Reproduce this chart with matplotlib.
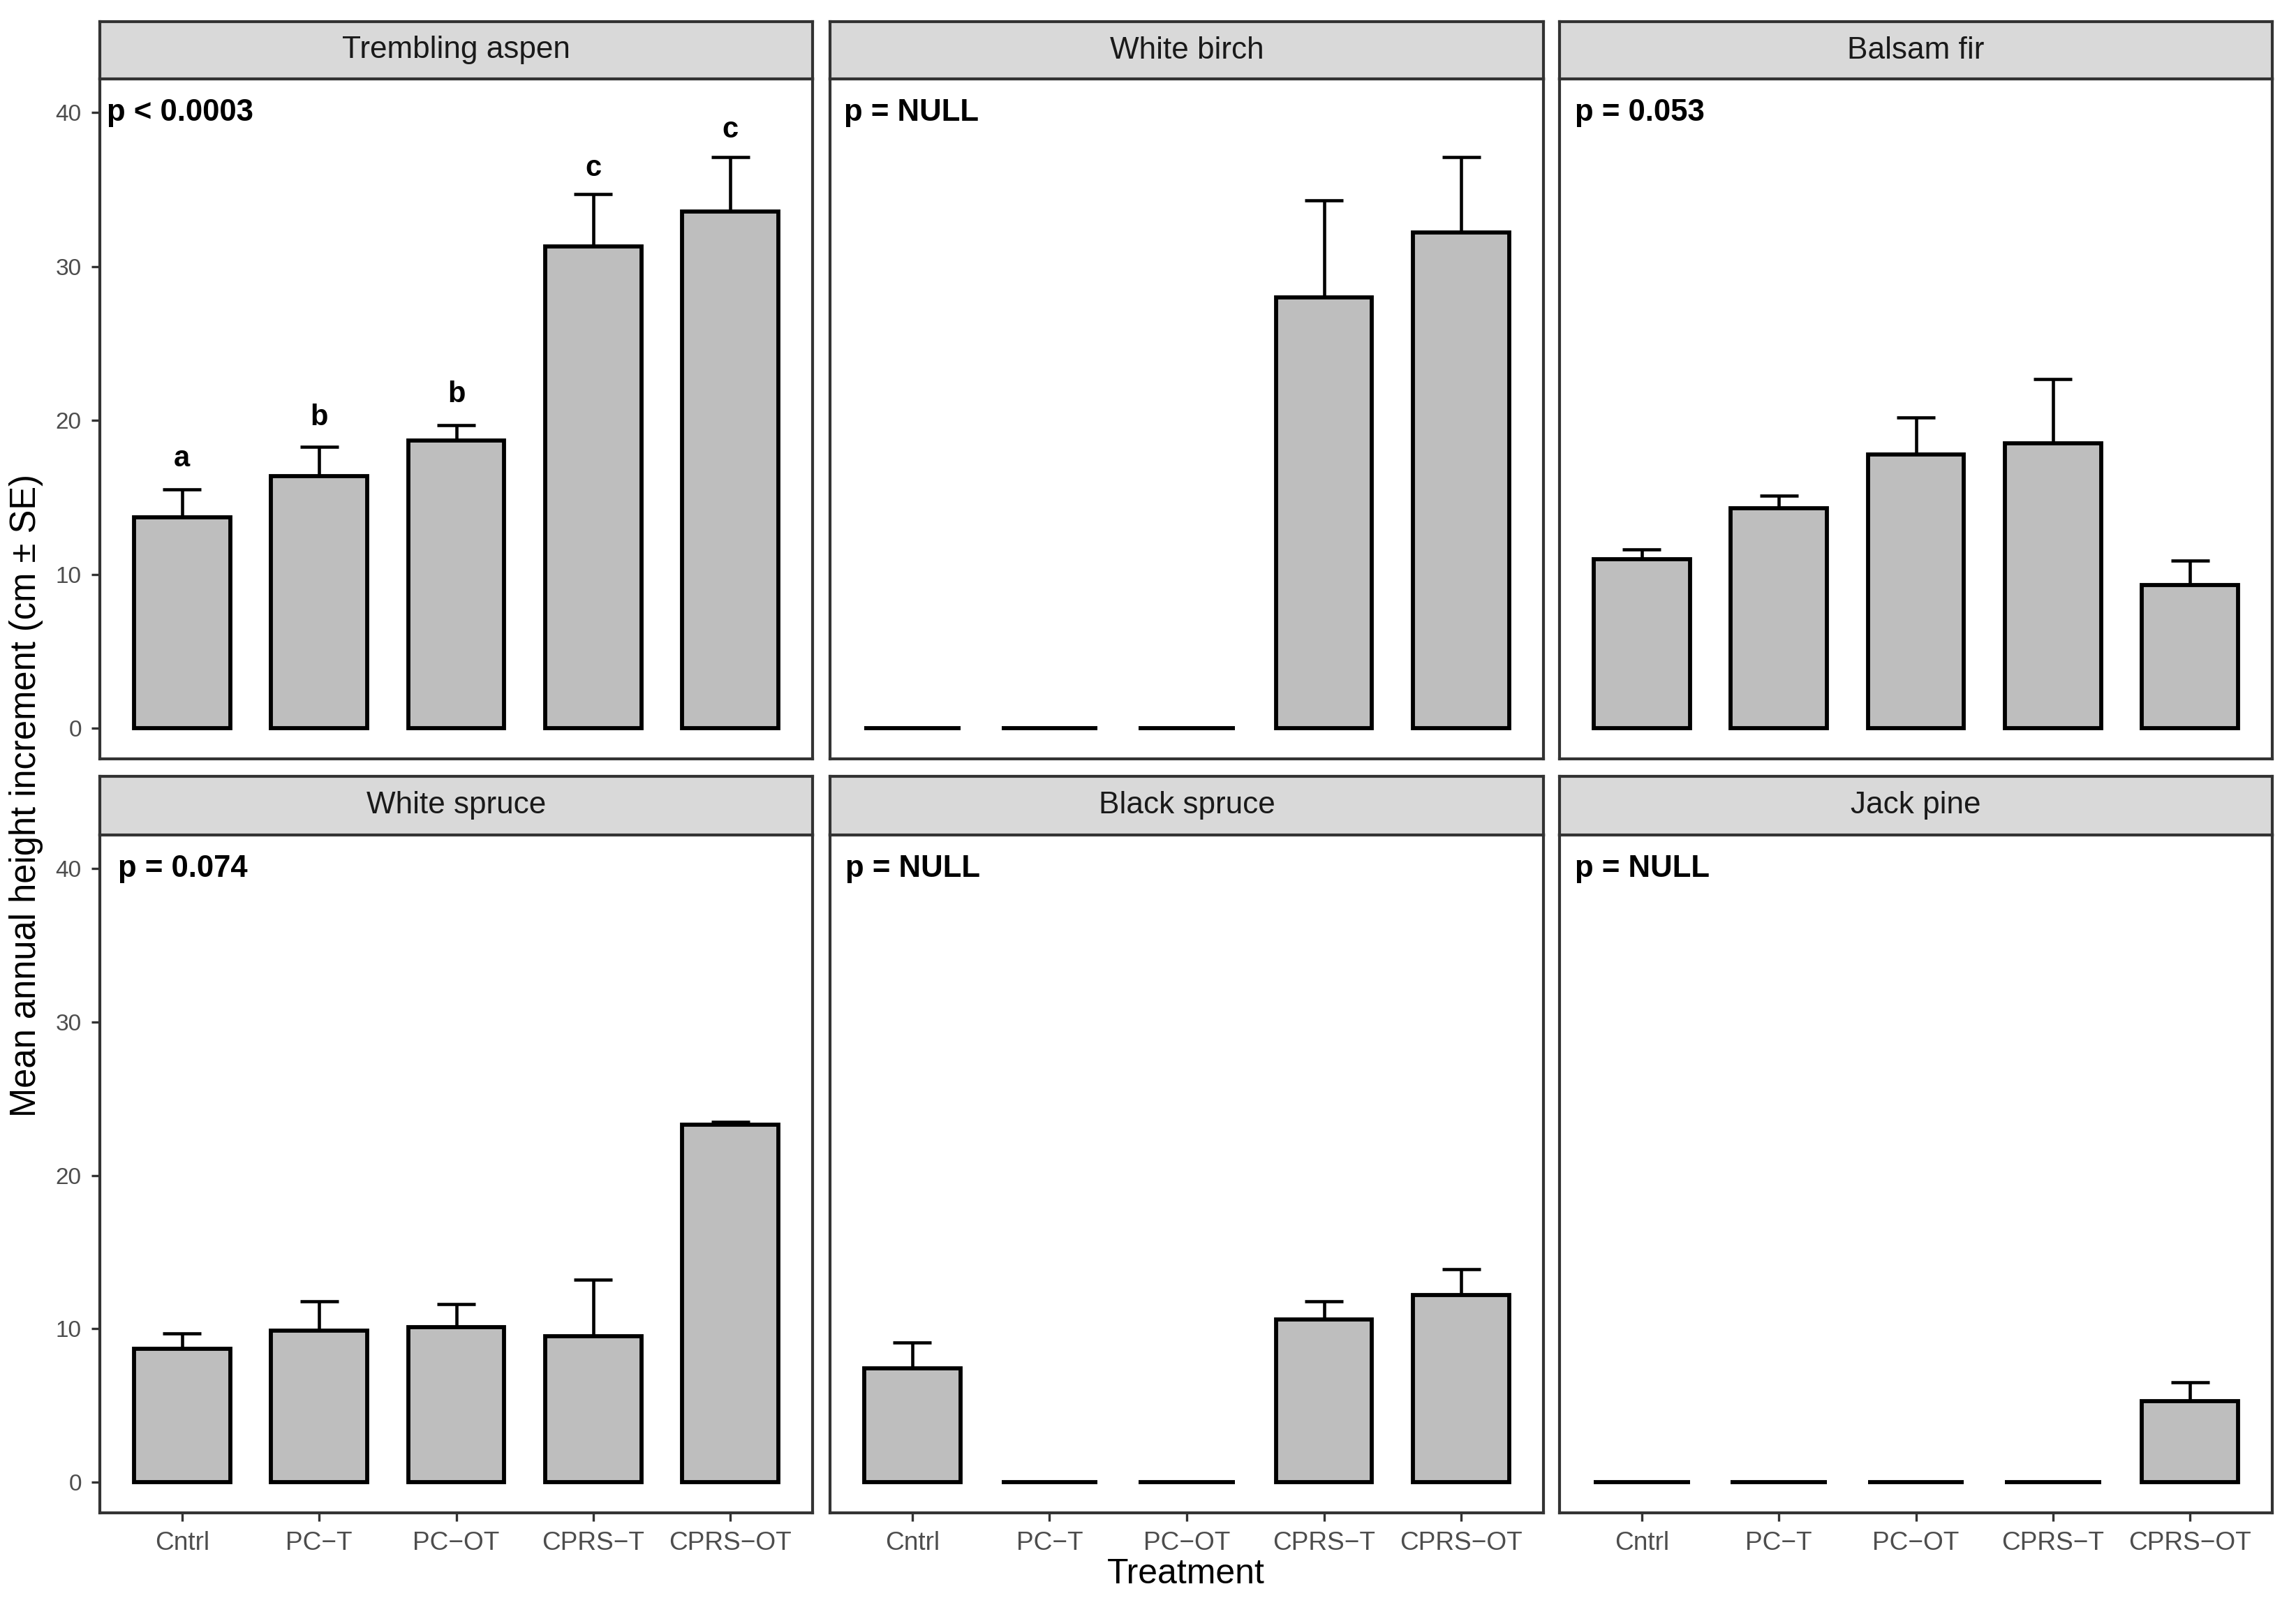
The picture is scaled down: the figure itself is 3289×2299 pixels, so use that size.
import matplotlib.pyplot as plt
from matplotlib import font_manager

W, H = 3289, 2299
DPI = 300

names = {f.name for f in font_manager.fontManager.ttflist}
narrow = 'Liberation Sans Narrow' if 'Liberation Sans Narrow' in names else 'Liberation Sans'
plt.rcParams['font.family'] = ['Liberation Sans', 'DejaVu Sans']

treatments = ['Cntrl', 'PC\u2212T', 'PC\u2212OT', 'CPRS\u2212T', 'CPRS\u2212OT']
species = ['Trembling aspen', 'White birch', 'Balsam fir',
           'White spruce', 'Black spruce', 'Jack pine']
p_labels = ['p < 0.0003', 'p = NULL', 'p = 0.053',
            'p = 0.074', 'p = NULL', 'p = NULL']

means = [
    [13.7, 16.4, 18.7, 31.3, 33.6],
    [0.0, 0.0, 0.0, 28.0, 32.2],
    [11.0, 14.3, 17.8, 18.5, 9.3],
    [8.7, 9.9, 10.1, 9.5, 23.3],
    [7.4, 0.0, 0.0, 10.6, 12.2],
    [0.0, 0.0, 0.0, 0.0, 5.3],
]
upper = [
    [15.5, 18.3, 19.7, 34.7, 37.1],
    [0.0, 0.0, 0.0, 34.3, 37.1],
    [11.6, 15.1, 20.2, 22.7, 10.9],
    [9.7, 11.8, 11.6, 13.2, 23.5],
    [9.1, 0.0, 0.0, 11.8, 13.9],
    [0.0, 0.0, 0.0, 0.0, 6.5],
]
# significance letters, only for trembling aspen
aspen_letters = ['a', 'b', 'b', 'c', 'c']
aspen_letter_y = [17.5, 20.2, 21.7, 36.4, 38.9]

fig = plt.figure(figsize=(W / DPI, H / DPI), dpi=DPI)

cols = [(143, 1164), (1189, 2211), (2234, 3255)]
rows = [(31, 113, 1087), (1112, 1196, 2167)]
p_x = [0.45, 0.5, 0.51, 0.53, 0.51, 0.51]

xs = list(range(1, len(treatments) + 1))

for i, sp in enumerate(species):
    r, c = divmod(i, 3)
    x0, x1 = cols[c]
    st, pt, pb = rows[r]
    ax = fig.add_axes([x0 / W, 1 - pb / H, (x1 - x0) / W, (pb - pt) / H])
    sax = fig.add_axes([x0 / W, 1 - pt / H, (x1 - x0) / W, (pt - st) / H])

    m = means[i]
    u = upper[i]
    # error bars (upper only)
    for x, mv, uv in zip(xs, m, u):
        if uv > mv:
            ax.plot([x, x], [mv, uv], color='black', lw=1.1, zorder=1,
                    solid_capstyle='butt')
            ax.plot([x - 0.14, x + 0.14], [uv, uv], color='black', lw=1.1,
                    zorder=1, solid_capstyle='butt')
    ax.bar(xs, m, width=0.7, color='#BEBEBE', edgecolor='black', lw=1.4,
           zorder=2)

    ax.text(p_x[i], 40, p_labels[i], ha='left', va='center', fontsize=10.5,
            fontweight='bold', color='black')
    if i == 0:
        for x, lab, ly in zip(xs, aspen_letters, aspen_letter_y):
            ax.text(x, ly, lab, ha='center', va='center', fontsize=10,
                    fontweight='bold')

    ax.set_xlim(0.4, 5.6)
    ax.set_ylim(-2, 42.2)
    ax.set_yticks([0, 10, 20, 30, 40])
    ax.set_xticks(xs)
    for s in ax.spines.values():
        s.set_color('#333333')
        s.set_linewidth(1.0)
    ax.tick_params(colors='#333333', length=2.8, width=0.8, labelcolor='#4D4D4D')
    if c == 0:
        ax.set_yticklabels(['0', '10', '20', '30', '40'], fontsize=8,
                           family=narrow)
    else:
        ax.tick_params(axis='y', left=False, labelleft=False)
    if r == 1:
        ax.set_xticklabels(treatments, fontsize=8.9, family=narrow)
    else:
        ax.tick_params(axis='x', bottom=False, labelbottom=False)

    sax.set_facecolor('#D9D9D9')
    sax.set_xticks([])
    sax.set_yticks([])
    for s in sax.spines.values():
        s.set_color('#333333')
        s.set_linewidth(1.0)
    sax.text(0.5, 0.5, sp, ha='center', va='center', fontsize=10.6,
             color='#1A1A1A', transform=sax.transAxes)

fig.text(1699 / W, 1 - 2255 / H, 'Treatment', ha='center', va='center',
         fontsize=12, family=narrow)
fig.text(38 / W, 1 - 1139 / H, 'Mean annual height increment (cm \u00b1 SE)',
         ha='center', va='center', rotation=90, fontsize=12.2)

fig.savefig('out.png', dpi=DPI)
